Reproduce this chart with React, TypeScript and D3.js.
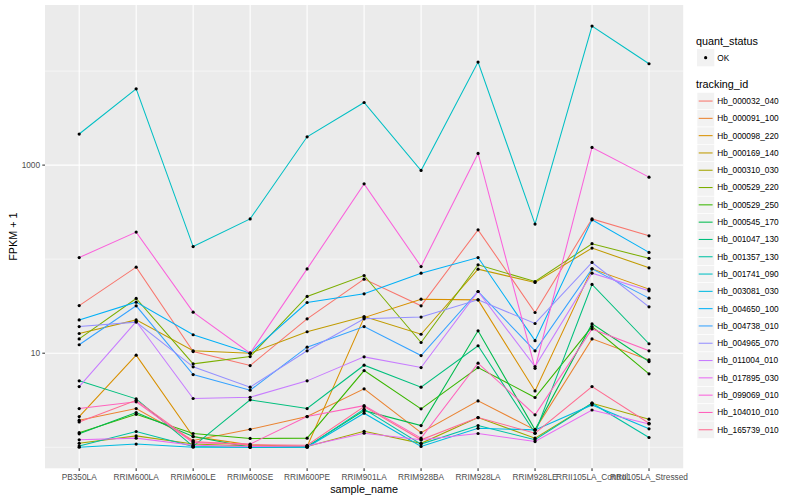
import React from "react";
import * as d3 from "d3";

const samples = [
  "PB350LA",
  "RRIM600LA",
  "RRIM600LE",
  "RRIM600SE",
  "RRIM600PE",
  "RRIM901LA",
  "RRIM928BA",
  "RRIM928LA",
  "RRIM928LE",
  "RRII105LA_Control",
  "RRII105LA_Stressed",
];

const trackingIds = [
  "Hb_000032_040",
  "Hb_000091_100",
  "Hb_000098_220",
  "Hb_000169_140",
  "Hb_000310_030",
  "Hb_000529_220",
  "Hb_000529_250",
  "Hb_000545_170",
  "Hb_001047_130",
  "Hb_001357_130",
  "Hb_001741_090",
  "Hb_003081_030",
  "Hb_004650_100",
  "Hb_004738_010",
  "Hb_004965_070",
  "Hb_011004_010",
  "Hb_017895_030",
  "Hb_099069_010",
  "Hb_104010_010",
  "Hb_165739_010",
];

// FPKM + 1 per sample, same order as `samples`
const hb000032_040 = [32.1, 82.2, 10.4, 7.39, 23.2, 61.3, 31.9, 205, 27.1, 268, 177];
const hb000091_100 = [1.94, 2.58, 1.18, 1.55, 2.12, 4.18, 1.43, 3.11, 1.53, 14.2, 8.49];
const hb000098_220 = [2.12, 9.52, 1.3, 1.06, 1.02, 23.9, 37.5, 36.9, 3.97, 78.9, 48.0];
const hb000169_140 = [16.2, 22.6, 10.6, 10.0, 16.9, 24.5, 15.9, 78.3, 56.5, 131, 80.9];
const hb000310_030 = [1.1, 1.32, 1.08, 1.03, 1.02, 1.48, 1.1, 2.07, 1.25, 2.94, 1.99];
const hb000529_220 = [14.2, 38.2, 7.7, 9.2, 40.1, 67.0, 13.0, 87.1, 57.8, 146, 102];
const hb000529_250 = [1.43, 2.24, 1.4, 1.24, 1.25, 6.54, 2.56, 7.04, 3.38, 19.2, 6.03];
const hb000545_170 = [1.39, 2.34, 1.3, 1.0, 1.02, 2.45, 1.7, 17.3, 1.53, 20.5, 8.15];
const hb001047_130 = [5.08, 3.27, 1.02, 3.19, 2.58, 7.45, 4.35, 12.0, 1.41, 53.8, 12.6];
const hb001357_130 = [1.03, 1.47, 1.02, 1.0, 1.0, 2.54, 1.08, 1.7, 1.2, 2.94, 1.27];
const hb001741_090 = [2140, 6480, 136, 268, 2000, 4630, 877, 12470, 236, 30100, 11960];
const hb003081_030 = [1.0, 1.08, 1.0, 1.0, 1.0, 2.3, 1.02, 1.59, 1.53, 2.82, 1.57];
const hb004650_100 = [22.6, 34.9, 15.7, 10.0, 34.6, 42.8, 71.0, 104, 13.6, 262, 118];
const hb004738_010 = [12.3, 31.9, 5.93, 4.04, 11.6, 19.2, 9.44, 45.3, 10.6, 78.9, 38.5];
const hb004965_070 = [19.2, 21.4, 7.16, 4.35, 10.6, 23.2, 24.2, 36.9, 20.7, 92.2, 31.1];
const hb011004_010 = [4.42, 21.7, 3.3, 3.4, 5.08, 9.14, 7.04, 45.3, 7.21, 71.0, 46.0];
const hb017895_030 = [1.2, 1.25, 1.05, 1.02, 1.03, 1.41, 1.2, 1.4, 1.15, 2.49, 1.77];
const hb099069_010 = [104, 194, 27.3, 10.0, 78.8, 632, 83.4, 1330, 6.9, 1540, 745];
const hb104010_010 = [2.58, 3.04, 1.12, 1.08, 2.12, 2.77, 1.25, 7.83, 2.21, 18.1, 10.6];
const hb165739_010 = [1.86, 3.16, 1.15, 1.06, 1.05, 2.71, 1.2, 2.07, 1.41, 4.42, 1.8];

const seriesValues = [
  hb000032_040, hb000091_100, hb000098_220, hb000169_140, hb000310_030,
  hb000529_220, hb000529_250, hb000545_170, hb001047_130, hb001357_130,
  hb001741_090, hb003081_030, hb004650_100, hb004738_010, hb004965_070,
  hb011004_010, hb017895_030, hb099069_010, hb104010_010, hb165739_010,
];

const yBreaks = [10, 1000];
const yMinorBreaks = [1, 100, 10000];

// ggplot2 default hue palette for 20 levels
const COLORS = [
  "#F8766D", "#EA8331", "#D89000", "#C09B00", "#A3A500",
  "#7CAE00", "#39B600", "#00BB4E", "#00BF7D", "#00C1A3",
  "#00BFC4", "#00BAE0", "#00B0F6", "#35A2FF", "#9590FF",
  "#C77CFF", "#E76BF3", "#FA62DB", "#FF62BC", "#FF6C91",
];

const WIDTH = 800;
const HEIGHT = 500;
const PANEL = { left: 45, right: 683.2, top: 5, bottom: 468.3 };
const FONT = "'Liberation Sans', Arial, Helvetica, sans-serif";
const TICK_SIZE = 8.3;
const TITLE_SIZE = 10.8;
const LEGEND_X = 697;
const KEY = 17.3;

export default function App() {
  const x = d3
    .scalePoint<string>()
    .domain(samples)
    .range([PANEL.left, PANEL.right])
    .padding(0.6);

  const all = seriesValues.flat();
  const lmin = Math.log10(d3.min(all) as number);
  const lmax = Math.log10(d3.max(all) as number);
  const pad = (lmax - lmin) * 0.05;
  const y = d3
    .scaleLog()
    .domain([10 ** (lmin - pad), 10 ** (lmax + pad)])
    .range([PANEL.bottom, PANEL.top]);

  const lineGen = d3
    .line<number>()
    .x((_, i) => x(samples[i]) as number)
    .y(d => y(d));

  const pw = PANEL.right - PANEL.left;
  const ph = PANEL.bottom - PANEL.top;
  const trackTop = 92.4;

  return (
    <svg
      width={WIDTH}
      height={HEIGHT}
      style={{ position: "absolute", left: 0, top: 0, background: "#fff" }}
      fontFamily={FONT}
    >
      <rect x={PANEL.left} y={PANEL.top} width={pw} height={ph} fill="#EBEBEB" />

      {yMinorBreaks.map(v => (
        <line key={"mn" + v} x1={PANEL.left} x2={PANEL.right} y1={y(v)} y2={y(v)} stroke="#fff" strokeWidth={0.55} />
      ))}
      {yBreaks.map(v => (
        <line key={"mj" + v} x1={PANEL.left} x2={PANEL.right} y1={y(v)} y2={y(v)} stroke="#fff" strokeWidth={1.1} />
      ))}
      {samples.map(s => (
        <line key={"vx" + s} x1={x(s)} x2={x(s)} y1={PANEL.top} y2={PANEL.bottom} stroke="#fff" strokeWidth={1.1} />
      ))}

      {seriesValues.map((vals, i) => (
        <path key={trackingIds[i]} d={lineGen(vals) || ""} fill="none" stroke={COLORS[i]} strokeWidth={1.05} />
      ))}
      {seriesValues.map((vals, i) =>
        vals.map((v, j) => (
          <circle key={trackingIds[i] + j} cx={x(samples[j])} cy={y(v)} r={1.6} fill="#000" />
        ))
      )}

      {/* y axis */}
      {yBreaks.map(v => (
        <g key={"yt" + v}>
          <line x1={PANEL.left - 2.7} x2={PANEL.left} y1={y(v)} y2={y(v)} stroke="#333" strokeWidth={1.05} />
          <text x={PANEL.left - 4.9} y={y(v)} dy="0.35em" textAnchor="end" fontSize={TICK_SIZE} fill="#4D4D4D">
            {v}
          </text>
        </g>
      ))}
      {/* x axis */}
      {samples.map(s => (
        <g key={"xt" + s}>
          <line x1={x(s)} x2={x(s)} y1={PANEL.bottom} y2={PANEL.bottom + 2.7} stroke="#333" strokeWidth={1.05} />
          <text x={x(s)} y={PANEL.bottom + 12} textAnchor="middle" fontSize={TICK_SIZE} fill="#4D4D4D">
            {s}
          </text>
        </g>
      ))}
      <text x={PANEL.left + pw / 2} y={493} textAnchor="middle" fontSize={TITLE_SIZE} fill="#000">
        sample_name
      </text>
      <text
        transform={`translate(16.5,${PANEL.top + ph / 2}) rotate(-90)`}
        textAnchor="middle"
        fontSize={TITLE_SIZE}
        fill="#000"
      >
        FPKM + 1
      </text>

      {/* legend: quant_status */}
      <text x={LEGEND_X - 1} y={44.5} fontSize={TITLE_SIZE} fill="#000">
        quant_status
      </text>
      <rect x={LEGEND_X} y={49} width={KEY} height={KEY} fill="#F2F2F2" />
      <circle cx={LEGEND_X + KEY / 2} cy={49 + KEY / 2} r={1.6} fill="#000" />
      <text x={LEGEND_X + KEY + 3} y={49 + KEY / 2} dy="0.35em" fontSize={TICK_SIZE} fill="#000">
        OK
      </text>

      {/* legend: tracking_id */}
      <text x={LEGEND_X - 1} y={88} fontSize={TITLE_SIZE} fill="#000">
        tracking_id
      </text>
      {trackingIds.map((id, i) => {
        const ky = trackTop + i * KEY;
        return (
          <g key={"lg" + id}>
            <rect x={LEGEND_X} y={ky} width={KEY} height={KEY} fill="#F2F2F2" stroke="#fff" strokeWidth={0.6} />
            <line
              x1={LEGEND_X + 1.7}
              x2={LEGEND_X + KEY - 1.7}
              y1={ky + KEY / 2}
              y2={ky + KEY / 2}
              stroke={COLORS[i]}
              strokeWidth={1.05}
            />
            <text x={LEGEND_X + KEY + 3} y={ky + KEY / 2} dy="0.35em" fontSize={TICK_SIZE} fill="#000">
              {id}
            </text>
          </g>
        );
      })}
    </svg>
  );
}
